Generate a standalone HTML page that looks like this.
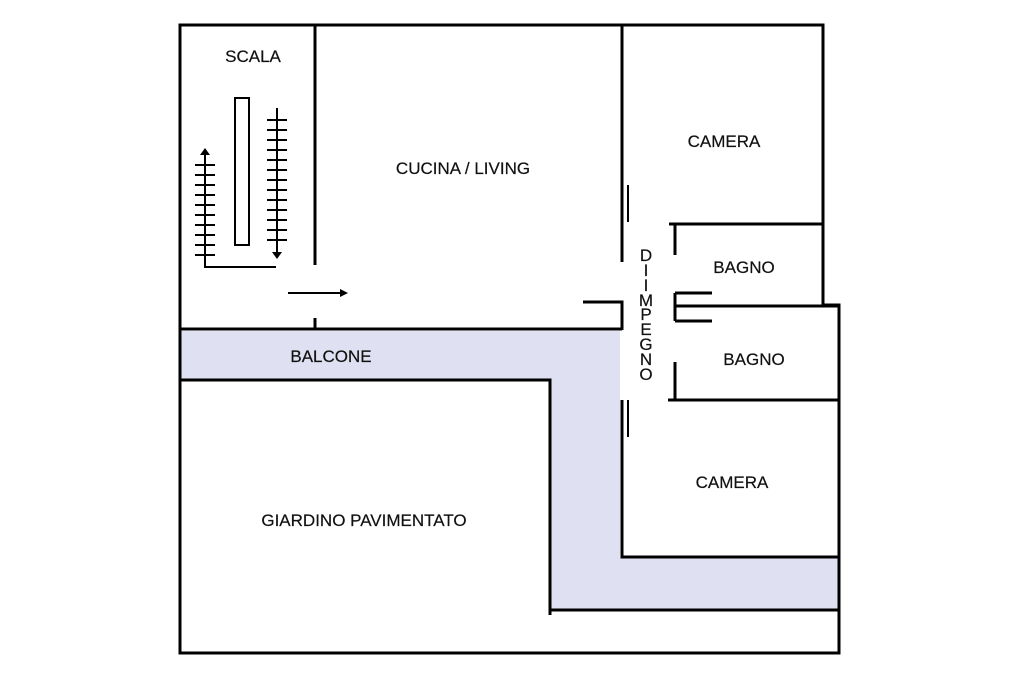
<!DOCTYPE html>
<html><head><style>
body{margin:0;background:#fff;}
svg text{font-family:"Liberation Sans",sans-serif;font-size:17px;fill:#111;text-anchor:middle;stroke:#111;stroke-width:0.2px;}
</style></head><body>
<svg width="1024" height="682" viewBox="0 0 1024 682" xmlns="http://www.w3.org/2000/svg">
<rect width="1024" height="682" fill="#fff"/>
<path d="M180 331 H620 V557 H839 V610 H550 V380 H180 Z" fill="#dfe0f1"/>
<g stroke="#000" stroke-width="3" fill="none">
<path d="M180 25 H823 V305 H839 V653 H180 Z"/>
<path d="M315 25 V265 M315 318 V328"/>
<path d="M180 329 H622"/>
<path d="M180 380 H550 V615"/>
<path d="M550 610 H839"/>
<path d="M622 25 V262 M583 302 H622 V330"/>
<path d="M622 400 V557 H839"/>
<path d="M669 224 H823 M675 224 V255"/>
<path d="M675 306 H839"/>
<path d="M675 293 H712 M675 321 H712 M675 293 V321"/>
<path d="M675 362 V400 M668 400 H839"/>
</g>
<g stroke="#000" stroke-width="2" fill="none">
<path d="M628 185 V222 M628 400 V437"/>
<rect x="235" y="98" width="14" height="147"/>
<path d="M277 108 V252 M205 155 V268 M205 267 H276 M288 293 H340"/>
<path d="M267 120 H287 M267 130 H287 M267 140 H287 M267 150 H287 M267 160 H287 M267 170 H287 M267 180 H287 M267 190 H287 M267 200 H287 M267 210 H287 M267 220 H287 M267 230 H287 M267 240 H287"/>
<path d="M195 165 H215 M195 175 H215 M195 185 H215 M195 195 H215 M195 205 H215 M195 215 H215 M195 225 H215 M195 235 H215 M195 245 H215 M195 255 H215"/>
</g>
<path d="M272 252 L282 252 L277 259 Z M200 155 L210 155 L205 148 Z M340 289 L348 293 L340 297 Z" fill="#000"/>
<text x="253" y="62">SCALA</text>
<text x="463" y="174">CUCINA / LIVING</text>
<text x="724" y="147">CAMERA</text>
<text x="744" y="273">BAGNO</text>
<text x="754" y="365">BAGNO</text>
<text x="331" y="362">BALCONE</text>
<text x="732" y="488">CAMERA</text>
<text x="364" y="526">GIARDINO PAVIMENTATO</text>
<g style="font-size:15px;stroke-width:0">
<text x="646" y="261">D</text><text x="646" y="276">I</text><text x="646" y="291">I</text>
<text x="646" y="306">M</text><text x="646" y="320">P</text><text x="646" y="335">E</text>
<text x="646" y="350">G</text><text x="646" y="365">N</text><text x="646" y="380">O</text>
</g>
</svg>
</body></html>
